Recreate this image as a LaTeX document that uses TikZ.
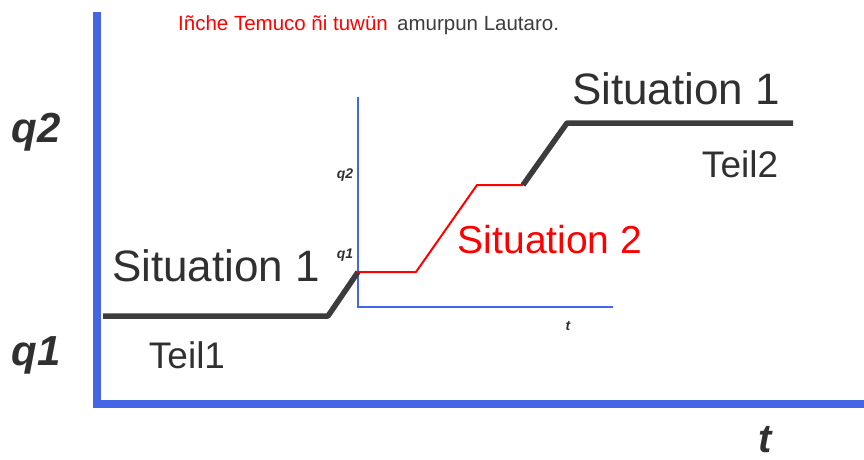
\documentclass[tikz,border=0pt]{standalone}
\usepackage{fontspec}
\setmainfont{Liberation Sans}
\definecolor{axisblue}{RGB}{68,102,230}
\definecolor{pathgrey}{RGB}{60,60,60}
\definecolor{pathred}{RGB}{255,0,0}
\tikzset{
  bigaxis/.style={draw=axisblue,line width=8pt,line join=miter},
  smallaxis/.style={draw=axisblue,line width=2.8pt},
  greypath/.style={draw=pathgrey,line width=5.5pt,line join=round},
  redpath/.style={draw=pathred,line width=2pt,line join=round},
  lbl/.style={inner sep=0pt,anchor=center},
  biglabel/.style={lbl,font=\fontsize{44}{50}\selectfont,text=pathgrey!80!black},
  teillabel/.style={lbl,font=\fontsize{37}{42}\selectfont,text=pathgrey!80!black},
  axislabel/.style={lbl,font=\fontsize{42}{48}\selectfont\bfseries\itshape,text=pathgrey!80!black},
  smalllabel/.style={lbl,font=\fontsize{14}{16}\selectfont\bfseries\itshape,text=pathgrey!80!black}
}
\begin{document}
\begin{tikzpicture}[x=1pt,y=-1pt]
\useasboundingbox (0,0) rectangle (864,460);
% big axes
\coordinate (Btop) at (97,12);
\coordinate (Borig) at (97,404);
\coordinate (Bright) at (864,404);
\draw[bigaxis] (Btop) -- (Borig) -- (Bright);
% small axes
\coordinate (Stop) at (358,97);
\coordinate (Sorig) at (358,307);
\coordinate (Sright) at (613,307);
\draw[smallaxis] (Stop) -- (Sorig) -- (Sright);
% grey path
\coordinate (g1) at (103,316);
\coordinate (g2) at (328,316);
\coordinate (g3) at (358,272);
\draw[greypath] (g1) -- (g2) -- (g3);
\coordinate (r1) at (416,272);
\coordinate (r2) at (477,185);
\coordinate (r3) at (523,185);
\draw[redpath] (g3) -- (r1) -- (r2) -- (r3);
\coordinate (g4) at (567,123);
\coordinate (g5) at (793,123);
\draw[greypath] (r3) -- (g4) -- (g5);
% labels
\node[axislabel] (Q2) at (36,132) {q2};
\node[axislabel] (Q1) at (36,355) {q1};
\node[axislabel,font=\fontsize{40}{46}\selectfont\bfseries\itshape] (T) at (765,440) {t};
\node[smalllabel] (sq2) at (345,175) {q2};
\node[smalllabel] (sq1) at (345,255) {q1};
\node[smalllabel] (st) at (568,326) {t};
\node[biglabel] (S1a) at (216,266) {Situation 1};
\node[biglabel] (S1b) at (676,89) {Situation 1};
\node[lbl,font=\fontsize{39}{44}\selectfont,text=pathred] (S2) at (550,240) {Situation 2};
\node[teillabel] (T1) at (187,355) {Teil1};
\node[teillabel] (T2) at (740,164) {Teil2};
\node[lbl,anchor=base west,font=\fontsize{20.5}{23}\selectfont,text=pathred] (title1) at (178,31) {Iñche Temuco ñi tuwün};
\node[lbl,anchor=base west,font=\fontsize{20.5}{23}\selectfont,text=pathgrey] (title2) at (397,31) {amurpun Lautaro.};
\end{tikzpicture}
\end{document}
